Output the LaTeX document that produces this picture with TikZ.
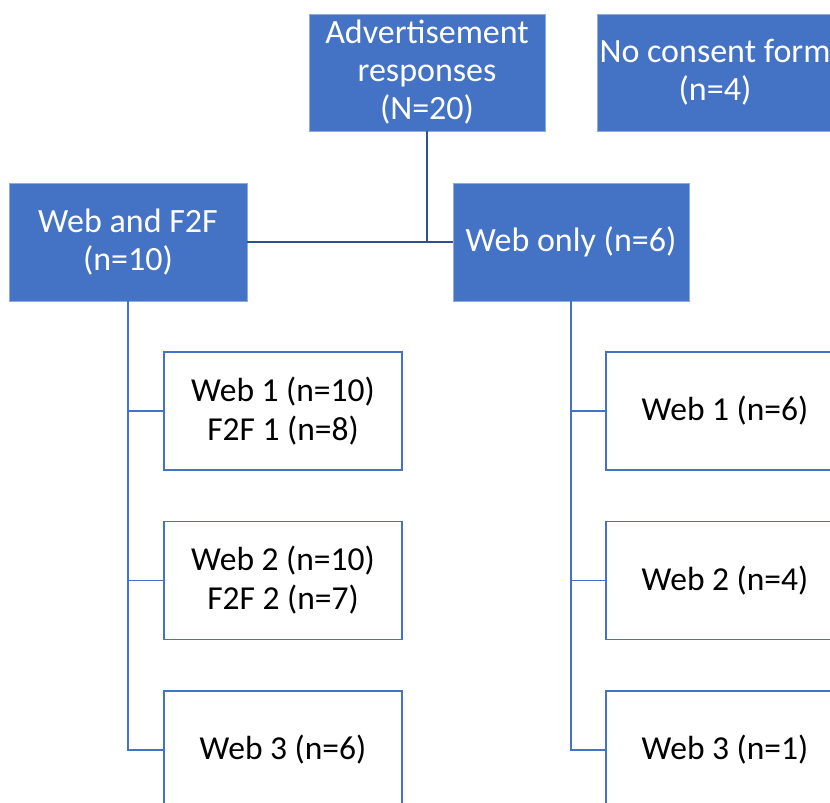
\documentclass[tikz,border=0pt]{standalone}
\usepackage{fontspec}
\setmainfont{Carlito}
\definecolor{boxblue}{HTML}{4472C4}
\definecolor{edgeblue}{HTML}{8FAADC}
\definecolor{darkline}{HTML}{2F528F}
\begin{document}
\begin{tikzpicture}[x=1pt,y=-1pt,
  bluebox/.style={draw=edgeblue,line width=0.8pt,fill=boxblue,text=white,minimum width=236pt,minimum height=117pt,align=center,inner sep=0pt,font=\fontsize{34}{38}\selectfont},
  whitebox/.style={draw=boxblue,line width=1.2pt,fill=white,text=black,minimum width=238pt,minimum height=118pt,align=center,inner sep=0pt,font=\fontsize{33.5}{39}\selectfont},
  topline/.style={draw=darkline,line width=1.8pt},
  treeline/.style={draw=boxblue,line width=1.2pt}]
\useasboundingbox (0,0) rectangle (830,803);
\clip (0,0) rectangle (830,803);
\node[bluebox] (ad) at (427,72.5) {Advertisement\\responses\\(N=20)};
\node[bluebox] (nc) at (715,72.5) {No consent form\\(n=4)};
\node[bluebox,minimum width=238pt,minimum height=118pt] (wf) at (128,242) {Web and F2F\\(n=10)};
\node[bluebox,minimum height=118pt] (wo) at (571,242) {Web only (n=6)};
\draw[topline] (wf.east) -- (wo.west);
\draw[topline] (ad.south) -- (ad.south |- wf.east);
\node[whitebox] (l1) at (283,411) {Web 1 (n=10)\\F2F 1 (n=8)};
\node[whitebox] (l2) at (283,580.5) {Web 2 (n=10)\\F2F 2 (n=7)};
\node[whitebox] (l3) at (283,750) {Web 3 (n=6)};
\node[whitebox] (r1) at (725,411) {Web 1 (n=6)};
\node[whitebox] (r2) at (725,580.5) {Web 2 (n=4)};
\node[whitebox] (r3) at (725,750) {Web 3 (n=1)};
\draw[treeline] (wf.south) |- (l3.west);
\draw[treeline] (wf.south |- l1.west) -- (l1.west);
\draw[treeline] (wf.south |- l2.west) -- (l2.west);
\draw[treeline] (wo.south) |- (r3.west);
\draw[treeline] (wo.south |- r1.west) -- (r1.west);
\draw[treeline] (wo.south |- r2.west) -- (r2.west);
\end{tikzpicture}
\end{document}
